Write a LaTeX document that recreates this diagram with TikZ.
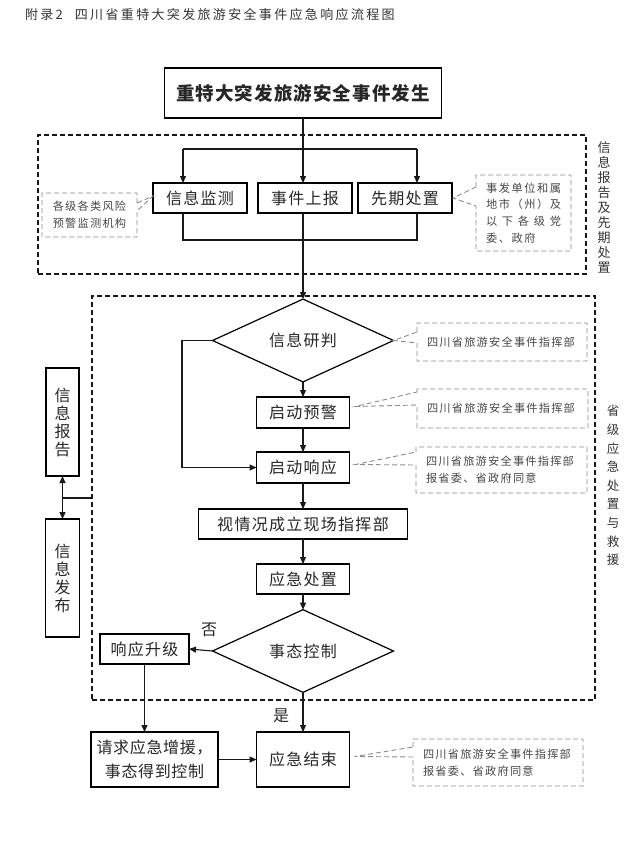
\documentclass[tikz,border=0pt]{standalone}
\usepackage{fontspec}
\setmainfont{Noto Sans CJK SC}
\usetikzlibrary{arrows.meta,shapes.geometric,calc}
\newcommand\boxfont{\fontsize{16}{19}\selectfont\addfontfeature{LetterSpace=8}}
\newcommand\topfont{\fontsize{18.5}{22}\selectfont\bfseries\addfontfeature{LetterSpace=6}}
\newcommand\notefont{\fontsize{11.2}{17}\selectfont\addfontfeature{LetterSpace=11}}
\newcommand\titlefont{\fontsize{13}{15}\selectfont\addfontfeature{LetterSpace=18}}
\newcommand\drawcallW[4]{\draw[noteline] ($(#1.north west)+(0,#2)$) -- (#1.north west) -- (#1.north east) -- (#1.south east) -- (#1.south west) -- ($(#1.north west)+(0,#3)$) -- #4 -- cycle;}
\newcommand\drawcallE[4]{\draw[noteline] ($(#1.north east)+(0,#2)$) -- (#1.north east) -- (#1.north west) -- (#1.south west) -- (#1.south east) -- ($(#1.north east)+(0,#3)$) -- #4 -- cycle;}
\begin{document}
\begin{tikzpicture}[x=1pt,y=-1pt,
  every node/.style={inner sep=0pt,outer sep=0pt},
  mainbox/.style={draw=black,line width=1.2pt,text=black!85,font=\boxfont,align=center},
  dia/.style={diamond,draw=black,line width=1.2pt,text=black!85,font=\boxfont},
  zone/.style={draw=black!90,line width=1.3pt,dash pattern=on 5pt off 3pt},
  link/.style={line width=1.1pt,draw=black!90},
  flow/.style={link,-{Triangle[length=7pt,width=6pt]}},
  note/.style={text=black!72,font=\notefont},
  noteline/.style={draw=black!45,line width=0.9pt,dash pattern=on 5pt off 3pt},
  vlabel/.style={text=black!80,align=center}]
\useasboundingbox (0,0) rectangle (642,855);

% title
\node[anchor=west,font=\titlefont,text=black!80] (title) at (25,15) {附录2\hspace{12pt}四川省重特大突发旅游安全事件应急响应流程图};

% containers
\node[zone,minimum width=548pt,minimum height=139pt] (zone1) at (312,204.5) {};
\node[zone,minimum width=503pt,minimum height=404pt] (zone2) at (343.5,498) {};

% top
\node[mainbox,font=\topfont,minimum width=277pt,minimum height=50pt] (top) at (303,93) {重特大突发旅游安全事件发生};

% row
\node[mainbox,minimum width=94pt,minimum height=30pt] (xxjc) at (200,198) {信息监测};
\node[mainbox,minimum width=94pt,minimum height=30pt] (sjsb) at (305,198) {事件上报};
\node[mainbox,minimum width=94pt,minimum height=30pt] (xqcz) at (405,198) {先期处置};

% center column
\node[dia,minimum width=181pt,minimum height=65pt] (d1) at (303,340.5) {信息研判};
\node[mainbox,minimum width=93pt,minimum height=31pt] (qdyj) at (303,412.5) {启动预警};
\node[mainbox,minimum width=93pt,minimum height=31pt] (qdxy) at (303,467.5) {启动响应};
\node[mainbox,minimum width=209pt,minimum height=30pt] (sqk) at (303,524) {视情况成立现场指挥部};
\node[mainbox,minimum width=93pt,minimum height=30pt] (yjcz) at (303,579) {应急处置};
\node[dia,minimum width=181pt,minimum height=66pt] (d2) at (303,651) {事态控制};
\node[mainbox,minimum width=93pt,minimum height=55pt] (yjjs) at (303,759.5) {应急结束};
\node[mainbox,minimum width=89pt,minimum height=30pt] (xysj) at (144.5,649) {响应升级};
\node[mainbox,minimum width=127pt,minimum height=55pt,font=\fontsize{16}{24}\selectfont\addfontfeature{LetterSpace=4}] (qq) at (154.5,759.5) {请求应急增援，\\事态得到控制};

\node[text=black!85,font=\fontsize{16}{19}\selectfont] (no) at (209,630) {否};
\node[text=black!85,font=\fontsize{16}{19}\selectfont] (yes) at (281,716) {是};

% left boxes
\node[mainbox,font=\fontsize{16}{18}\selectfont,minimum width=33pt,minimum height=108pt] (xxbg) at (62.5,422) {信\\息\\报\\告};
\node[mainbox,font=\fontsize{16}{18}\selectfont,minimum width=34pt,minimum height=118pt] (xxfb) at (62.5,578) {信\\息\\发\\布};

% side labels
\node[vlabel,font=\fontsize{13}{15}\selectfont] (lab1) at (604,207) {信\\息\\报\\告\\及\\先\\期\\处\\置};
\node[vlabel,font=\fontsize{12.5}{18.6}\selectfont] (lab2) at (613,485.5) {省\\级\\应\\急\\处\\置\\与\\救\\援};

% callouts
\node[note,align=center,minimum width=95pt,minimum height=44pt] (cL) at (89.5,215) {各级各类风险\\预警监测机构};
\node[note,align=center,minimum width=95pt,minimum height=76pt,font=\fontsize{11.2}{16.7}\selectfont] (cR) at (523.5,213)
  {\makebox[75pt][s]{事\hfill 发\hfill 单\hfill 位\hfill 和\hfill 属}\\
   \makebox[75pt][s]{地\hfill 市\hfill （\hfill 州\hfill ）\hfill 及}\\
   \makebox[75pt][s]{以\hfill 下\hfill 各\hfill 级\hfill 党}\\
   \makebox[75pt][l]{\addfontfeature{LetterSpace=14}委、政府}};
\node[note,align=left,text width=150pt,minimum width=170pt,minimum height=38pt] (c1) at (502,342) {四川省旅游安全事件指挥部};
\node[note,align=left,text width=151pt,minimum width=171pt,minimum height=39pt] (c2) at (502.5,408.5) {四川省旅游安全事件指挥部};
\node[note,align=left,text width=151pt,minimum width=171pt,minimum height=46pt] (c3) at (501.5,470) {四川省旅游安全事件指挥部\\报省委、省政府同意};
\node[note,align=left,text width=150pt,minimum width=170pt,minimum height=47pt] (c4) at (498,762.5) {四川省旅游安全事件指挥部\\报省委、省政府同意};

\drawcallE{cL}{10}{18}{($(xxjc.west)+(0,-2)$)}
\drawcallW{cR}{12}{31}{($(xqcz.east)+(1,0)$)}
\drawcallW{c1}{9}{20}{(d1.east)}
\drawcallW{c2}{3}{16}{($(qdyj.east)+(6,-6)$)}
\drawcallW{c3}{5}{18}{($(qdxy.east)+(6,-3)$)}
\drawcallW{c4}{8}{18}{($(yjjs.east)+(5,-3)$)}

% connectors top section
\coordinate (bL) at (183,149);
\coordinate (bR) at (417,149);
\coordinate (mL) at (183,240);
\coordinate (mR) at (417,240);
\draw[link] (bL) -- (bR);
\draw[flow] (bL) -- (bL |- xxjc.north);
\draw[flow] (bR) -- (bR |- xqcz.north);
\draw[flow] (top.south) -- (top.south |- sjsb.north);
\draw[link] (mL |- xxjc.south) -- (mL) -- (mR) -- (mR |- xqcz.south);
\draw[flow] (sjsb.south -| d1.north) -- (d1.north);

% center flow
\draw[flow] (d1.south) -- (qdyj.north);
\draw[flow] (qdyj.south) -- (qdxy.north);
\draw[flow] (qdxy.south) -- (sqk.north);
\draw[flow] (sqk.south) -- (yjcz.north);
\draw[flow] (yjcz.south) -- (d2.north);
\draw[flow] (d2.south) -- (yjjs.north);
\draw[flow] (d2.west) -- (xysj.east);
\draw[flow] (xysj.south) -- (xysj.south |- qq.north);
\draw[flow] (qq.east) -- (yjjs.west);
\coordinate (lp) at (182,340.5);
\draw[flow] (d1.west) -- (lp) -- (lp |- qdxy.west) -- (qdxy.west);

% left connectors
\draw[link,{Triangle[length=7pt,width=6pt]}-{Triangle[length=7pt,width=6pt]}] (xxbg.south) -- (xxfb.north);
\coordinate (jn) at (62.5,498);
\draw[link] (jn) -- (jn -| zone2.west);
\end{tikzpicture}
\end{document}
